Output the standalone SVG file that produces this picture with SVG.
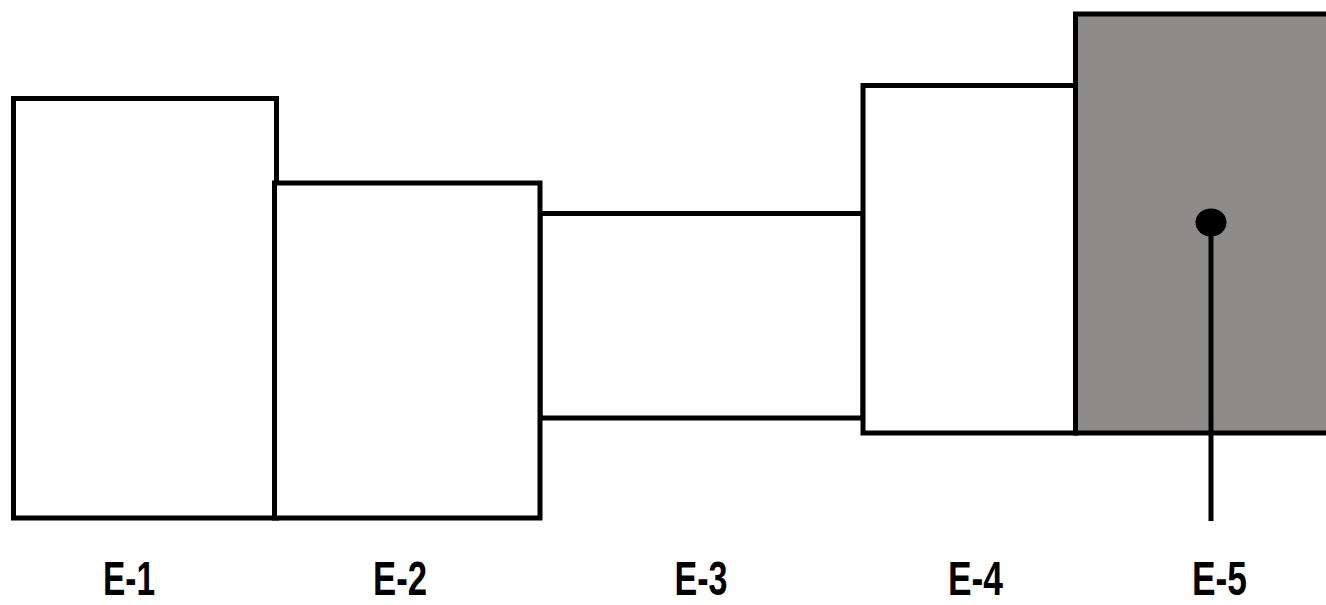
<svg xmlns="http://www.w3.org/2000/svg" width="1326" height="605" viewBox="0 0 1326 605">
  <style>
    .box { fill: #ffffff; stroke: #000000; stroke-width: 5; }
    .shaded { fill: #8c8b89; stroke: #000000; stroke-width: 5; }
    .lbl { font-family: "Liberation Sans Narrow", "Liberation Sans", Arial, sans-serif; font-weight: bold; font-size: 48px; fill: #000000; text-anchor: middle; }
    .lead { stroke: #000000; stroke-width: 5; fill: none; }
  </style>
  <rect width="1326" height="605" fill="#ffffff"/>
  <g id="E-3">
    <rect class="box" x="540" y="213.5" width="323" height="204.5"/>
    <text class="lbl" x="701" y="594.5" textLength="53" lengthAdjust="spacingAndGlyphs">E-3</text>
  </g>
  <g id="E-1">
    <rect class="box" x="13.5" y="98.5" width="263" height="419.5"/>
    <text class="lbl" x="129" y="594.5" textLength="52" lengthAdjust="spacingAndGlyphs">E-1</text>
  </g>
  <g id="E-2">
    <rect class="box" x="274.5" y="183" width="265.5" height="335"/>
    <text class="lbl" x="400" y="594.5" textLength="54" lengthAdjust="spacingAndGlyphs">E-2</text>
  </g>
  <g id="E-4">
    <rect class="box" x="863" y="85.5" width="212.5" height="347.5"/>
    <text class="lbl" x="975.5" y="594.5" textLength="55" lengthAdjust="spacingAndGlyphs">E-4</text>
  </g>
  <g id="E-5">
    <rect class="shaded" x="1075.5" y="14" width="270" height="419"/>
    <text class="lbl" x="1219.5" y="594.5" textLength="55" lengthAdjust="spacingAndGlyphs">E-5</text>
  </g>
  <g id="connectors">
    <line class="lead" x1="1211" y1="222.5" x2="1211" y2="521"/>
    <ellipse cx="1211" cy="222.5" rx="15.5" ry="14" fill="#000000"/>
  </g>
</svg>
